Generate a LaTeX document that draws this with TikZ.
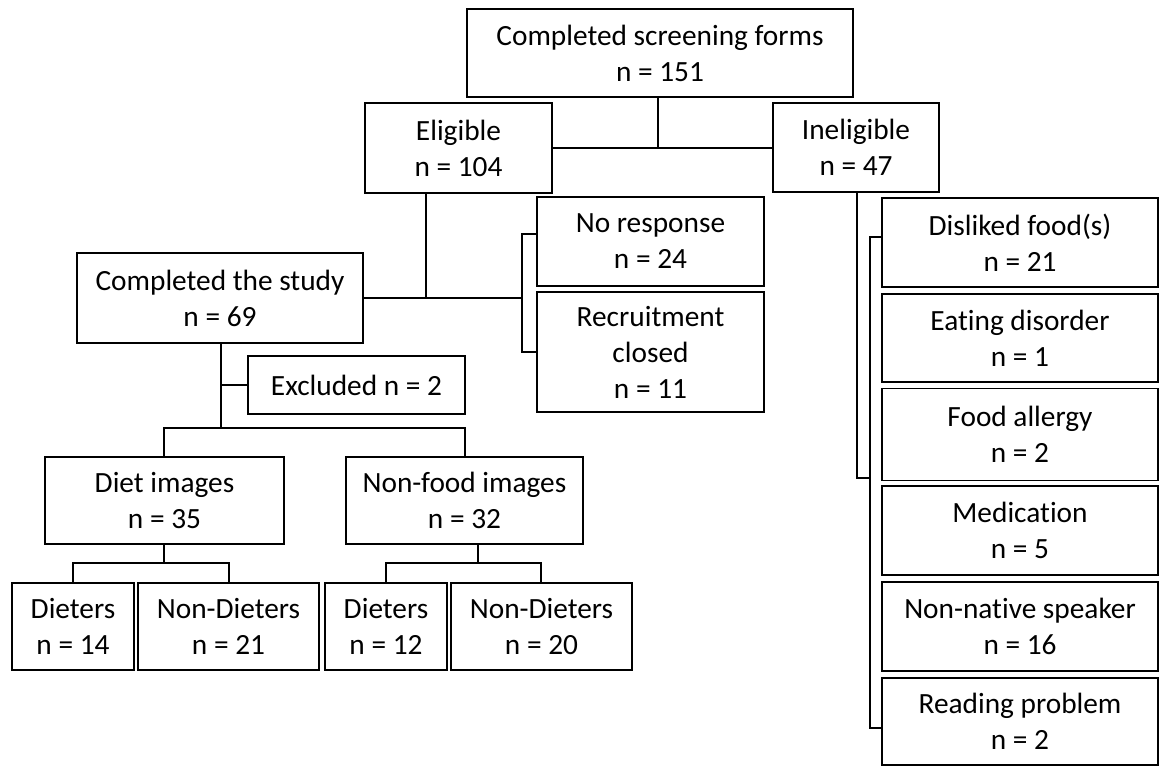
\documentclass[tikz,border=0pt]{standalone}
\usepackage{fontspec}
\setmainfont{Carlito}[Ligatures=NoCommon]
\begin{document}
\begin{tikzpicture}[x=0.75pt,y=-0.75pt,
  box/.style={draw,line width=1.3pt,rectangle,inner sep=0pt,align=center,
    font=\fontsize{22}{27}\selectfont},
  conn/.style={line width=1.3pt}]
\useasboundingbox (0,0) rectangle (1160,766);
\newcommand\bx[7]{\node[box,minimum width=#4*0.75pt,minimum height=#5*0.75pt] (#1) at (#2,#3) {#6};}
\bx{top}{660}{53}{386}{88}{Completed screening forms\\n = 151}{}
\bx{elig}{458.5}{148}{187}{90}{Eligible\\n = 104}{}
\bx{inelig}{856}{147.5}{166}{89}{Ineligible\\n = 47}{}
\bx{noresp}{650.5}{241.5}{227}{89}{No response\\n = 24}{}
\bx{recruit}{650.5}{352}{227}{120}{Recruitment\\closed\\n = 11}{}
\bx{study}{220}{298}{286}{90}{Completed the study\\n = 69}{}
\bx{excl}{356.5}{385}{217}{58}{Excluded n = 2}{}
\bx{diet}{164.5}{500.5}{239}{87}{Diet images\\n = 35}{}
\bx{nonfood}{464.5}{500.5}{237}{87}{Non-food images\\n = 32}{}
\bx{da}{73}{626.5}{122}{87}{Dieters\\n = 14}{}
\bx{nda}{228.5}{626.5}{181}{87}{Non-Dieters\\n = 21}{}
\bx{db}{386}{626.5}{122}{87}{Dieters\\n = 12}{}
\bx{ndb}{541.5}{626.5}{181}{87}{Non-Dieters\\n = 20}{}
\bx{dis}{1020}{242.5}{276}{89}{Disliked food(s)\\n = 21}{}
\bx{eat}{1020}{338}{276}{88}{Eating disorder\\n = 1}{}
\bx{allergy}{1020}{434.5}{276}{92}{Food allergy\\n = 2}{}
\bx{med}{1020}{530.5}{276}{89}{Medication\\n = 5}{}
\bx{nonnat}{1020}{626.5}{276}{89}{Non-native speaker\\n = 16}{}
\bx{read}{1020}{721.5}{276}{87}{Reading problem\\n = 2}{}
% top split
\coordinate (t1) at (658,148);
\draw[conn] (top.south -| t1) -- (t1);
\draw[conn] (elig.east) -- (inelig.west |- elig.east);
% eligible branch
\coordinate (e1) at (426,298);
\coordinate (eb) at (522,298);
\draw[conn] (elig.south -| e1) -- (e1);
\draw[conn] (study.east) -- (eb);
\draw[conn] (noresp.west |- 0,234) -- (522,234) -- (522,352) -- (recruit.west |- 0,352);
% study branch
\coordinate (s1) at (221,428);
\draw[conn] (study.south -| s1) -- (s1);
\draw[conn] (221,385) -- (excl.west);
\draw[conn] (diet.north -| 164,0) -- (164,428) -- (465,428) -- (nonfood.north -| 465,0);
% diet branch
\draw[conn] (diet.south -| 164,0) -- (164,563);
\draw[conn] (da.north -| 73,0) -- (73,563) -- (229,563) -- (nda.north -| 229,0);
% nonfood branch
\draw[conn] (nonfood.south -| 478,0) -- (478,563);
\draw[conn] (db.north -| 386,0) -- (386,563) -- (541,563) -- (ndb.north -| 541,0);
% ineligible branch
\draw[conn] (inelig.south -| 857,0) -- (857,478) -- (870,478);
\draw[conn] (dis.west |- 0,237) -- (870,237) -- (870,728) -- (read.west |- 0,728);
\end{tikzpicture}
\end{document}
